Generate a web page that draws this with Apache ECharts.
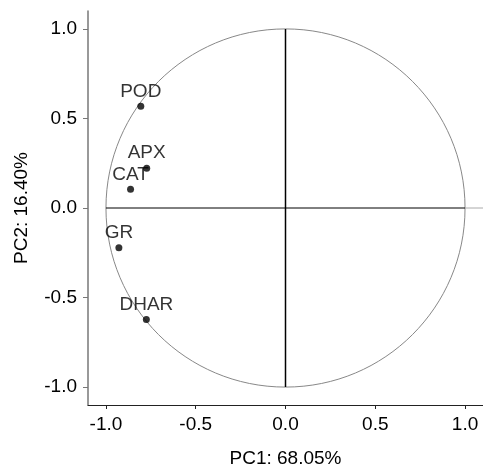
<!DOCTYPE html>
<html>
<head>
<meta charset="utf-8">
<script src="https://cdn.jsdelivr.net/npm/echarts@6/dist/echarts.min.js"></script>
<style>
  html, body { margin: 0; padding: 0; background: #fff; }
  #chart { width: 483px; height: 473px; }
</style>
</head>
<body>
<div id="chart"></div>
<script>
// variable loadings on the first two components
let names = ['POD', 'APX', 'CAT', 'GR', 'DHAR'];
let pc1 = [-0.806, -0.773, -0.863, -0.928, -0.775];
let pc2 = [0.568, 0.222, 0.104, -0.222, -0.622];

let ticks = [-1.0, -0.5, 0.0, 0.5, 1.0];
let xName = 'PC1: 68.05%';
let yName = 'PC2: 16.40%';

// reference lines and unit circle
let circle = [[0, 0, 1]];
let hLine = [[-1, 0], [1, 0]];
let hLineOut = [[1, 0], [1.1, 0]];
let vLine = [[0, -1], [0, 1]];

let font = 'Liberation Sans, Arial, sans-serif';
let fs = 19;
let myChart = echarts.init(document.getElementById('chart'));

let option = {
    animation: false,
    backgroundColor: '#fff',
    grid: { left: 88, top: 11, width: 397, height: 396 },
    xAxis: {
        type: 'value',
        min: -1.1,
        max: 1.1,
        splitLine: { show: false },
        axisLine: { onZero: false, lineStyle: { color: '#222', width: 1 } },
        axisTick: { customValues: ticks, length: 4, lineStyle: { color: '#222' } },
        axisLabel: {
            customValues: ticks,
            formatter: v => v.toFixed(1),
            color: '#000', fontSize: fs, fontFamily: font, margin: 10
        },
        name: xName,
        nameLocation: 'middle',
        nameGap: 44,
        nameTextStyle: { color: '#000', fontSize: fs, fontFamily: font }
    },
    yAxis: {
        type: 'value',
        min: -1.1,
        max: 1.1,
        splitLine: { show: false },
        axisLine: { onZero: false, lineStyle: { color: '#777', width: 1.5 } },
        axisTick: { customValues: ticks, length: 5, lineStyle: { color: '#777' } },
        axisLabel: {
            customValues: ticks,
            formatter: v => v.toFixed(1),
            color: '#000', fontSize: fs, fontFamily: font, margin: 11
        },
        name: yName,
        nameLocation: 'middle',
        nameGap: 57,
        nameTextStyle: { color: '#000', fontSize: fs, fontFamily: font }
    },
    series: [
        {
            type: 'custom',
            silent: true,
            data: circle,
            renderItem: function (params, api) {
                let c = api.coord([api.value(0), api.value(1)]);
                let s = api.size([api.value(2), api.value(2)]);
                return {
                    type: 'ellipse',
                    shape: { cx: c[0], cy: c[1], rx: s[0], ry: s[1] },
                    style: { fill: null, stroke: '#888', lineWidth: 1 }
                };
            },
            z: 1
        },
        {
            type: 'line', data: hLine, symbol: 'none', silent: true,
            lineStyle: { color: '#000', width: 1 }, z: 2
        },
        {
            type: 'line', data: hLineOut, symbol: 'none', silent: true,
            lineStyle: { color: '#aaa', width: 1 }, z: 2
        },
        {
            type: 'line', data: vLine, symbol: 'none', silent: true,
            lineStyle: { color: '#000', width: 1.5 }, z: 2
        },
        {
            type: 'scatter',
            data: pc1.map((x, i) => [x, pc2[i], names[i]]),
            symbolSize: 7,
            itemStyle: { color: '#000' },
            label: {
                show: true,
                position: 'top',
                distance: 2,
                formatter: p => p.value[2],
                color: '#000',
                fontSize: fs,
                fontFamily: font
            },
            z: 3
        }
    ]
};

myChart.setOption(option);
</script>
</body>
</html>
